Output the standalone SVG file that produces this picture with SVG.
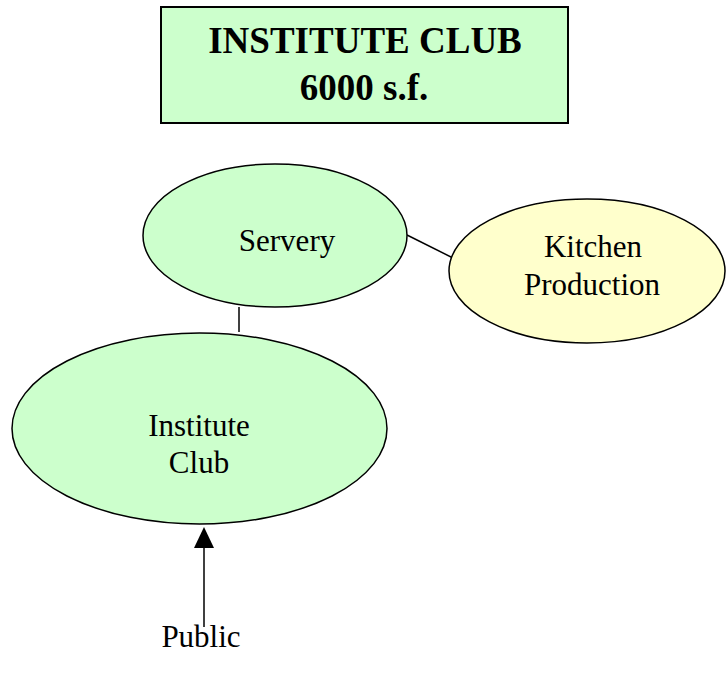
<svg xmlns="http://www.w3.org/2000/svg" width="726" height="673" viewBox="0 0 726 673">
  <style>
    .shape { stroke: #000; stroke-width: 1.5; }
    .box { stroke-width: 2; }
    .green { fill: #ccffcc; }
    .yellow { fill: #ffffcc; }
    .label { font-family: "Liberation Serif", "Times New Roman", serif; font-size: 31px; fill: #000; text-anchor: middle; }
    .title { font-family: "Liberation Serif", "Times New Roman", serif; font-size: 37px; font-weight: bold; fill: #000; text-anchor: middle; }
    .link { stroke: #000; stroke-width: 1.5; fill: none; }
  </style>
  <rect width="726" height="673" fill="#fff"/>

  <g id="title">
    <rect class="shape box green" x="161" y="7" width="407" height="116"/>
    <text class="title" x="365" y="53">INSTITUTE CLUB</text>
    <text class="title" x="364" y="100">6000 s.f.</text>
  </g>

  <g id="connectors">
    <line class="link" x1="407" y1="235" x2="455" y2="259"/>
    <line class="link" x1="239" y1="307" x2="239" y2="332"/>
    <line class="link" x1="204" y1="627" x2="204" y2="548"/>
    <path d="M204,527 L214,548 L194,548 Z" fill="#000"/>
  </g>

  <g id="servery">
    <ellipse class="shape green" cx="275" cy="235.5" rx="132" ry="71.5"/>
    <text class="label" x="287" y="251">Servery</text>
  </g>

  <g id="kitchen">
    <ellipse class="shape yellow" cx="587" cy="271" rx="138" ry="72"/>
    <text class="label" x="593" y="257">Kitchen</text>
    <text class="label" x="592" y="295">Production</text>
  </g>

  <g id="institute-club">
    <ellipse class="shape green" cx="199.5" cy="428.5" rx="187.5" ry="95.5"/>
    <text class="label" x="199" y="436">Institute</text>
    <text class="label" x="199" y="473">Club</text>
  </g>

  <g id="public">
    <text class="label" x="201" y="647">Public</text>
  </g>
</svg>
